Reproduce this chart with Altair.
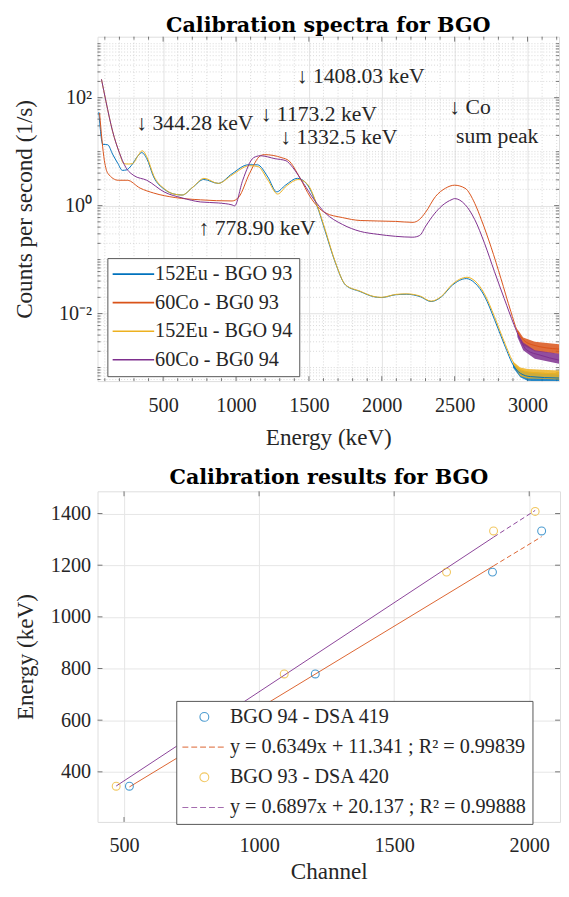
import altair as alt
import pandas as pd

FONT = "Liberation Serif"
TFONT = "DejaVu Serif"
INK = "#262626"
TICK = "#555555"
FS = 20.5      # tick labels / legend
TS = 23.5      # axis titles
AFS = 22       # annotations

# ---------------- spectra (top panel) ----------------
series_names = ["152Eu - BGO 93", "60Co - BG0 93", "152Eu - BGO 94", "60Co - BG0 94"]
series_colors = ["#0072BD", "#D95319", "#EDB120", "#7E2F8E"]

eu93_E = [59, 86, 120, 153, 190, 220, 250, 281, 328, 353, 388, 435, 509, 570, 630, 704, 778, 878, 973,
          1083, 1147, 1218, 1279, 1339, 1422, 1482, 1557, 1608, 1680, 1752, 1851, 1946, 1997, 2094, 2168,
          2265, 2338, 2410, 2484, 2580, 2638, 2705, 2773, 2840, 2907, 2952, 3019, 3216]
eu93_C = [54, 13.7, 13.4, 9.0, 6.0, 4.5, 4.6, 5.5, 8.4, 9.6, 7.4, 3.4, 2.0, 1.65, 1.57, 2.2, 3.05, 2.58, 3.9,
          5.7, 5.7, 3.4, 1.8, 2.39, 3.2, 2.58, 0.97, 0.362, 0.090, 0.0336, 0.0256, 0.0205, 0.0198, 0.0223, 0.0228,
          0.0205, 0.0167, 0.0205, 0.0336, 0.0445, 0.037, 0.021, 0.0078, 0.0027, 0.00105, 0.00078, 0.00068, 0.00064]

co93_E = [64, 97, 121, 193, 254, 342, 435, 583, 756, 973, 1020, 1093, 1167, 1194, 1315, 1362, 1436, 1509,
          1610, 1731, 1852, 2094, 2215, 2257, 2300, 2369, 2437, 2499, 2571, 2638, 2683, 2750, 2817, 2885,
          2929, 2975, 3041, 3216]
co93_C = [51.8, 6.8, 3.95, 2.95, 2.95, 2.11, 1.71, 1.41, 1.28, 1.22, 1.45, 3.95, 8.4, 8.8, 7.7, 6.8, 3.35, 1.45,
          0.74, 0.60, 0.53, 0.51, 0.49, 0.55, 0.75, 1.48, 2.1, 2.39, 2.1, 1.1, 0.55, 0.17, 0.045, 0.011,
          0.0048, 0.0032, 0.0026, 0.0022]

eu94_E = [77, 108, 153, 200, 230, 260, 290, 330, 356, 390, 435, 509, 570, 630, 704, 780, 878, 973,
          1093, 1150, 1218, 1285, 1345, 1430, 1490, 1560, 1610, 1680, 1752, 1851, 1946, 1997, 2094, 2168,
          2265, 2338, 2410, 2484, 2585, 2640, 2705, 2773, 2840, 2907, 2952, 3019, 3216]
eu94_C = [219, 84.6, 24, 9.5, 6.0, 5.9, 6.0, 8.6, 10.4, 7.8, 3.6, 2.05, 1.65, 1.57, 2.2, 3.2, 2.58, 3.7,
          5.5, 5.3, 3.0, 1.64, 2.3, 3.05, 2.5, 0.95, 0.37, 0.092, 0.034, 0.026, 0.0207, 0.020, 0.0226, 0.0232,
          0.021, 0.017, 0.021, 0.035, 0.047, 0.040, 0.023, 0.0088, 0.003, 0.0012, 0.00092, 0.00082, 0.00076]

co94_E = [77, 108, 153, 200, 243, 300, 388, 509, 630, 756, 878, 973, 990, 1046, 1120, 1167, 1268, 1342,
          1389, 1462, 1537, 1610, 1731, 1852, 1973, 2094, 2213, 2260, 2302, 2360, 2414, 2482, 2499, 2571,
          2638, 2705, 2773, 2840, 2907, 2952, 2995, 3086, 3216]
co94_C = [219, 84.6, 24, 9.5, 5.15, 3.6, 2.95, 1.78, 1.39, 1.17, 1.12, 1.03, 0.99, 2.95, 7.7, 8.4, 7.4, 6.8,
          5.1, 2.6, 1.28, 0.74, 0.447, 0.333, 0.294, 0.27, 0.26, 0.28, 0.42, 0.7, 1.0, 1.3, 1.35, 1.05,
          0.55, 0.20, 0.06, 0.019, 0.0062, 0.0032, 0.0021, 0.0017, 0.00137]

# noisy tails: lower / upper envelope of the scatter
eu93_tail_E = [2900, 2950, 3000, 3100, 3216]
eu93_tail_lo = [0.00100, 0.00066, 0.00057, 0.00055, 0.00055]
eu93_tail_hi = [0.00115, 0.00090, 0.00083, 0.00080, 0.00078]
co93_tail_E = [2930, 2970, 3050, 3216]
co93_tail_lo = [0.0045, 0.0026, 0.0020, 0.00178]
co93_tail_hi = [0.0052, 0.0036, 0.0030, 0.0027]
eu94_tail_E = [2900, 2950, 3000, 3100, 3216]
eu94_tail_lo = [0.00115, 0.00070, 0.00063, 0.00062, 0.00060]
eu94_tail_hi = [0.00130, 0.00100, 0.00094, 0.00091, 0.00088]
co94_tail_E = [2930, 2970, 3050, 3216]
co94_tail_lo = [0.0037, 0.0021, 0.00145, 0.00118]
co94_tail_hi = [0.0045, 0.0029, 0.0021, 0.0018]

ann_text = ["↓ 344.28 keV", "↓ 1173.2 keV", "↓ 1332.5 keV", "↓ 1408.03 keV", "↓ Co", "sum peak", "↑ 778.90 keV"]
ann_E = [316, 1169, 1303, 1416, 2463, 2510, 743]
ann_C = [33.6, 49, 18.3, 251, 65.8, 19.5, 0.378]

x_major = [500, 1000, 1500, 2000, 2500, 3000]
x_minor = [v for v in range(100, 3300, 100) if v % 500 != 0]
y_major = [0.01, 1, 100]
y_minor = [k * 10.0 ** d for d in range(-4, 4) for k in range(1, 10)
           if not (k == 1 and d in (-2, 0, 2)) and 5.61e-4 <= k * 10.0 ** d <= 1346]

rows = []
for name, Es, Cs in zip(series_names, [eu93_E, co93_E, eu94_E, co94_E], [eu93_C, co93_C, eu94_C, co94_C]):
    for e, c in zip(Es, Cs):
        rows.append({"series": name, "E": e, "C": c})
spec_df = pd.DataFrame(rows)

ann_df = pd.DataFrame({"E": ann_E, "C": ann_C, "t": ann_text})

TW, TH = 469, 350
top_x = alt.Scale(domain=[50, 3216], nice=False, zero=False)
top_y = alt.Scale(type="log", domain=[5.61e-4, 1346], nice=False)

axis_common = dict(labelFont=FONT, labelFontSize=FS, labelColor=INK, titleFont=FONT,
                   titleFontSize=TS, titleFontWeight="normal", titleColor=INK,
                   ticks=False, tickSize=0, domain=False, labelFlush=False, labelOverlap=False)

xaxis_top = alt.Axis(values=x_major, format="d", title="Energy (keV)", grid=True, gridColor="#e2e2e2",
                     labelPadding=15, titlePadding=10, **axis_common)
yaxis_top = alt.Axis(values=y_major, title="Counts per second (1/s)", grid=True, gridColor="#e2e2e2",
                     labelPadding=6, titlePadding=22,
                     labelExpr="datum.value > 50 ? '10²' : datum.value > 0.5 ? '10⁰' : '10⁻²'",
                     **axis_common)

X = alt.X("E:Q", scale=top_x, axis=xaxis_top)
Y = alt.Y("C:Q", scale=top_y, axis=yaxis_top)
color_scale = alt.Scale(domain=series_names, range=series_colors)


def edge_ticks(vals, field, enc, w, h, length, horizontal):
    """inward tick marks on the four sides of a panel"""
    df = pd.DataFrame({field: vals})
    base = alt.Chart(df).mark_rule(color=TICK, strokeWidth=0.8)
    if horizontal:   # ticks along x (bottom & top edges)
        return [base.encode(x=enc, y=alt.value(h), y2=alt.value(h - length)),
                base.encode(x=enc, y=alt.value(0), y2=alt.value(length))]
    return [base.encode(y=enc, x=alt.value(0), x2=alt.value(length)),
            base.encode(y=enc, x=alt.value(w), x2=alt.value(w - length))]


grid_x = alt.Chart(pd.DataFrame({"E": x_minor})).mark_rule(
    strokeDash=[1, 2], color="#c8c8c8", strokeWidth=0.7).encode(x=X)
grid_y = alt.Chart(pd.DataFrame({"C": y_minor})).mark_rule(
    strokeDash=[1, 2], color="#c8c8c8", strokeWidth=0.7).encode(y=Y)

top_ticks = (edge_ticks(x_major, "E", X, TW, TH, 5, True) + edge_ticks(x_minor, "E", X, TW, TH, 3, True) +
             edge_ticks(y_major, "C", Y, TW, TH, 5, False) + edge_ticks(y_minor, "C", Y, TW, TH, 3, False))

band_layers = []
for col, Es, lo, hi in zip(series_colors,
                           [eu93_tail_E, co93_tail_E, eu94_tail_E, co94_tail_E],
                           [eu93_tail_lo, co93_tail_lo, eu94_tail_lo, co94_tail_lo],
                           [eu93_tail_hi, co93_tail_hi, eu94_tail_hi, co94_tail_hi]):
    band_layers.append(
        alt.Chart(pd.DataFrame({"E": Es, "C": lo, "C2": hi})).mark_area(
            clip=True, opacity=0.85, color=col).encode(x=X, y=Y, y2="C2:Q"))

lines = alt.Chart(spec_df).mark_line(interpolate="monotone", strokeWidth=1, clip=True).encode(
    x=X, y=Y,
    color=alt.Color("series:N", scale=color_scale, sort=series_names,
                    legend=alt.Legend(title=None, orient="none", legendX=10, legendY=225,
                                      fillColor="white", strokeColor="#555555", padding=6,
                                      rowPadding=8, labelFont=FONT, labelFontSize=FS,
                                      labelColor=INK, labelOffset=22,
                                      symbolType="M-1.557,0H4.471", symbolSize=196,
                                      symbolStrokeWidth=1.6, labelLimit=300)))

texts = alt.Chart(ann_df).mark_text(align="left", baseline="middle", font=FONT,
                                    fontSize=AFS, color=INK).encode(x=X, y=Y, text="t:N")

top = alt.layer(grid_x, grid_y, *top_ticks, *band_layers, lines, texts).properties(
    width=TW, height=TH,
    title=alt.TitleParams("Calibration spectra for BGO", font=TFONT, fontSize=21,
                          fontWeight="bold", color="#000000", offset=0, anchor="middle"))

# ---------------- calibration (bottom panel) ----------------
energies = [344.28, 778.90, 1173.2, 1332.5, 1408.03]
bgo94_ch = [520, 1208, 1864, 2046]
bgo94_E = energies[:4]
bgo93_ch = [471, 1093, 1694, 1868, 2022]
bgo93_E = energies
fit94_ch = [520, 1868, 2046]
fit94_E = [341.5, 1197.3, 1310.4]
fit93_ch = [471, 1868, 2022]
fit93_E = [345.0, 1308.5, 1412.0]

leg_labels = ["BGO 94 - DSA 419", "y = 0.6349x + 11.341 ; R² = 0.99839",
              "BGO 93 - DSA 420", "y = 0.6897x + 20.137 ; R² = 0.99888"]
leg_colors = ["#0072BD", "#D95319", "#EDB120", "#7E2F8E"]
circ = "M2.4,0A0.643,0.643 0 1,1 1.114,0A0.643,0.643 0 1,1 2.4,0Z"
dash = "M-1.43,0H-0.57M-0.14,0H0.71M1.14,0H2.0M2.43,0H3.29M3.71,0H4.57"
leg_shapes = [circ, dash, circ, dash]

bx_vals = [500, 1000, 1500, 2000]
by_vals = [400, 600, 800, 1000, 1200, 1400]
BW, BH = 470, 336
bx = alt.Scale(domain=[402, 2114], nice=False, zero=False)
by = alt.Scale(domain=[206, 1486], nice=False, zero=False)
xaxis_b = alt.Axis(values=bx_vals, format="d", title="Channel", grid=True,
                   gridColor="#e6e6e6", labelPadding=14, titlePadding=4, **axis_common)
yaxis_b = alt.Axis(values=by_vals, format="d", title="Energy (keV)", grid=True,
                   gridColor="#e6e6e6", labelPadding=7, titlePadding=13, **axis_common)
BX = alt.X("ch:Q", scale=bx, axis=xaxis_b)
BY = alt.Y("E:Q", scale=by, axis=yaxis_b)

bottom_ticks = (edge_ticks(bx_vals, "ch", BX, BW, BH, 5, True) +
                edge_ticks(by_vals, "E", BY, BW, BH, 5, False))

def seg(chs, es):
    return pd.DataFrame({"ch": chs, "E": es})

fit94_solid = alt.Chart(seg(fit94_ch[:2], fit94_E[:2])).mark_line(color="#D95319", strokeWidth=0.9).encode(x=BX, y=BY)
fit94_dash = alt.Chart(seg(fit94_ch[1:], fit94_E[1:])).mark_line(color="#D95319", strokeWidth=0.9, strokeDash=[5, 3]).encode(x=BX, y=BY)
fit93_solid = alt.Chart(seg(fit93_ch[:2], fit93_E[:2])).mark_line(color="#7E2F8E", strokeWidth=0.9).encode(x=BX, y=BY)
fit93_dash = alt.Chart(seg(fit93_ch[1:], fit93_E[1:])).mark_line(color="#7E2F8E", strokeWidth=0.9, strokeDash=[5, 3]).encode(x=BX, y=BY)
pts94 = alt.Chart(seg(bgo94_ch, bgo94_E)).mark_point(shape="circle", filled=False, size=64,
                                                      color="#0072BD", strokeWidth=1.1).encode(x=BX, y=BY)
pts93 = alt.Chart(seg(bgo93_ch, bgo93_E)).mark_point(shape="circle", filled=False, size=64,
                                                      color="#EDB120", strokeWidth=1.1).encode(x=BX, y=BY)

bottom_legend = alt.Legend(title=None, orient="none", legendX=80, legendY=213,
                           fillColor="white", strokeColor="#555555", padding=6,
                           rowPadding=9.7, labelFont=FONT, labelFontSize=FS,
                           labelColor=INK, labelOffset=28, symbolSize=196,
                           symbolStrokeWidth=1.1, labelLimit=400)
legend_layer = alt.Chart(pd.DataFrame({"lab": leg_labels})).mark_point(
    filled=False, clip=True, strokeWidth=1.1).encode(
    x=alt.value(-200), y=alt.value(-200),
    color=alt.Color("lab:N", scale=alt.Scale(domain=leg_labels, range=leg_colors), sort=leg_labels,
                    legend=bottom_legend),
    shape=alt.Shape("lab:N", scale=alt.Scale(domain=leg_labels, range=leg_shapes), sort=leg_labels,
                    legend=bottom_legend))

bottom = alt.layer(*bottom_ticks, fit94_solid, fit94_dash, fit93_solid, fit93_dash, pts94, pts93,
                   legend_layer).properties(
    width=BW, height=BH,
    title=alt.TitleParams("Calibration results for BGO", font=TFONT, fontSize=21,
                          fontWeight="bold", color="#000000", offset=3, anchor="middle"))

chart = alt.vconcat(top, bottom, spacing=17).resolve_scale(
    color="independent", shape="independent"
).resolve_legend(
    color="independent", shape="independent"
).properties(
    padding={"left": 4, "top": 0, "right": 0, "bottom": 0}
).configure_view(stroke="#707070", strokeWidth=1).configure(background="white")

chart.save("out.html", embed_options={"renderer": "svg", "actions": False})
